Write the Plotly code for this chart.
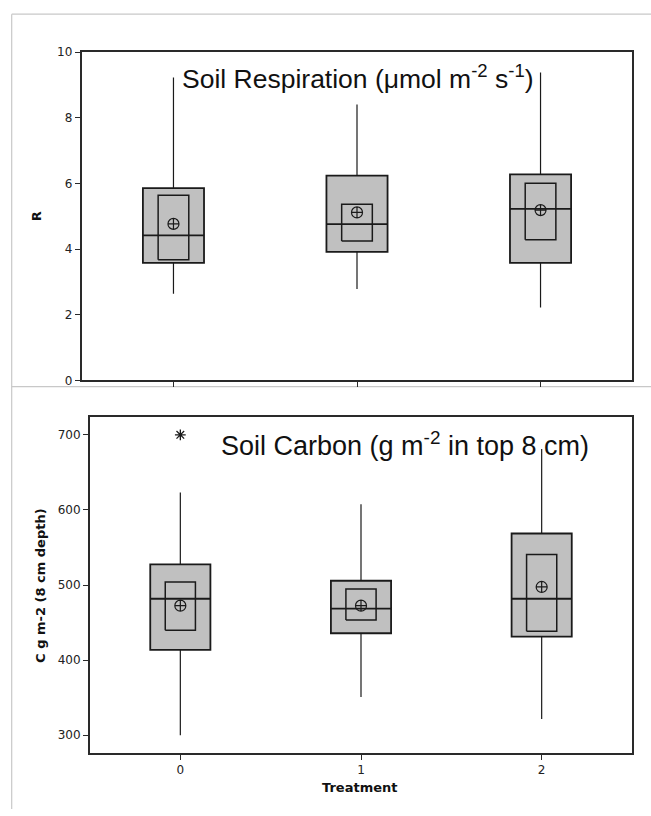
import plotly.graph_objects as go

W, H = 651, 816

treatments = [0, 1, 2]

# Soil respiration (top panel)
R_q1 = [3.58, 3.92, 3.58]
R_med = [4.42, 4.76, 5.23]
R_q3 = [5.86, 6.24, 6.28]
R_wlo = [2.64, 2.79, 2.22]
R_whi = [9.23, 8.41, 9.38]
R_cilo = [3.68, 4.25, 4.29]
R_cihi = [5.64, 5.37, 6.01]
R_mean = [4.77, 5.12, 5.19]

# Soil carbon (bottom panel)
C_q1 = [413.6, 435.8, 431.4]
C_med = [481.7, 468.6, 481.7]
C_q3 = [527.6, 505.7, 568.6]
C_wlo = [300, 351, 321.8]
C_whi = [623.2, 607.5, 681.2]
C_cilo = [439.8, 453.3, 438.5]
C_cihi = [504.0, 494.8, 540.7]
C_mean = [472.5, 472.5, 497.4]
C_out_x = [0]
C_out_y = [700]

R_ticks = [0, 2, 4, 6, 8, 10]
C_ticks = [300, 400, 500, 600, 700]
x_ticks = [0, 1, 2]
x_ticklabels = ["0", "1", "2"]

BOX_FILL = "#c0c0c0"
INK = "#1a1a1a"
OUTER_W = 0.333
INNER_HALF = 0.0835

fig = go.Figure()


def add_panel(xa, ya, q1, med, q3, wlo, whi, cilo, cihi, mean):
    # whiskers
    wx, wy = [], []
    for t, a, b, c, d in zip(treatments, wlo, q1, q3, whi):
        wx += [t, t, None, t, t, None]
        wy += [a, b, None, c, d, None]
    fig.add_trace(go.Scatter(x=wx, y=wy, mode="lines", xaxis=xa, yaxis=ya,
                             line=dict(color=INK, width=1.2), hoverinfo="skip",
                             showlegend=False))
    # outer box (quartiles + median)
    fig.add_trace(go.Box(x=treatments, q1=q1, median=med, q3=q3,
                         lowerfence=q1, upperfence=q3, width=OUTER_W,
                         whiskerwidth=0, fillcolor=BOX_FILL,
                         line=dict(color=INK, width=1.8), boxpoints=False,
                         xaxis=xa, yaxis=ya, showlegend=False))
    # inner box (confidence interval of the median)
    ix, iy = [], []
    for t, lo, hi in zip(treatments, cilo, cihi):
        ix += [t - INNER_HALF, t + INNER_HALF, t + INNER_HALF, t - INNER_HALF,
               t - INNER_HALF, None]
        iy += [lo, lo, hi, hi, lo, None]
    fig.add_trace(go.Scatter(x=ix, y=iy, mode="lines", xaxis=xa, yaxis=ya,
                             line=dict(color=INK, width=1.5), hoverinfo="skip",
                             showlegend=False))
    # mean symbol
    fig.add_trace(go.Scatter(x=treatments, y=mean, mode="markers",
                             xaxis=xa, yaxis=ya, showlegend=False,
                             marker=dict(symbol="circle-cross-open", size=11,
                                         color=INK, line=dict(width=1.2, color=INK))))


add_panel("x", "y", R_q1, R_med, R_q3, R_wlo, R_whi, R_cilo, R_cihi, R_mean)
add_panel("x2", "y2", C_q1, C_med, C_q3, C_wlo, C_whi, C_cilo, C_cihi, C_mean)
fig.add_trace(go.Scatter(x=C_out_x, y=C_out_y, mode="markers", xaxis="x2", yaxis="y2",
                         showlegend=False,
                         marker=dict(symbol="asterisk-open", size=9, color=INK,
                                     line=dict(width=1.3, color=INK))))

tickfont = dict(family="DejaVu Sans", size=12, color="#222")
axis_common = dict(showline=True, mirror=True, linecolor="#2a2a2a", linewidth=2,
                   ticks="outside", ticklen=5, tickwidth=1.2, tickcolor="#2a2a2a",
                   showgrid=False, zeroline=False, tickfont=tickfont)


def px_x(p):
    return p / W


def px_y(p):
    return 1 - p / H


fig.update_layout(
    width=W, height=H, margin=dict(l=0, r=0, t=0, b=0),
    paper_bgcolor="white", plot_bgcolor="white", boxmode="overlay",
    xaxis=dict(domain=[px_x(81.7), px_x(632.3)], range=[-0.5, 2.5], anchor="y",
               tickvals=x_ticks, showticklabels=False, **axis_common),
    yaxis=dict(domain=[px_y(380), px_y(46)], range=[0, 10], anchor="x",
               tickvals=R_ticks, **axis_common),
    xaxis2=dict(domain=[px_x(90), px_x(632)], range=[-0.5, 2.5], anchor="y2",
                tickvals=x_ticks, ticktext=x_ticklabels, **axis_common),
    yaxis2=dict(domain=[px_y(759), px_y(417.3)], range=[276.4, 723.5], anchor="x2",
                tickvals=C_ticks, **axis_common),
)

# light gray frame lines around the two panels
GRAY = "#c8c8c8"
for (x0, y0, x1, y1) in [(11.7, 7.3, 651, 7.3), (11.7, 7.3, 11.7, 816),
                         (11.7, 386.3, 651, 386.3)]:
    fig.add_shape(type="line", xref="paper", yref="paper",
                  x0=px_x(x0), y0=px_y(y0), x1=px_x(x1), y1=px_y(y1),
                  line=dict(color=GRAY, width=1.2), layer="below")

title_font_top = dict(family="Liberation Sans, Arial", size=26.5, color="#111")
title_font = dict(family="Liberation Sans, Arial", size=27, color="#111")
bold_font = dict(family="DejaVu Sans", size=13, color="#111")

fig.add_annotation(x=px_x(357.5), y=px_y(71), xref="paper", yref="paper",
                   text="Soil Respiration (\u03bcmol m<sup>-2</sup> s<sup>-1</sup>)",
                   showarrow=False, font=title_font_top, xanchor="center", yanchor="middle")
fig.add_annotation(x=px_x(405.4), y=px_y(445), xref="paper", yref="paper",
                   text="Soil Carbon (g m<sup>-2</sup> in top 8 cm)",
                   showarrow=False, font=title_font, xanchor="center", yanchor="middle")
fig.add_annotation(x=px_x(36), y=px_y(213), xref="paper", yref="paper",
                   text="<b>R</b>", textangle=-90, showarrow=False, font=bold_font,
                   xanchor="center", yanchor="middle")
fig.add_annotation(x=px_x(41), y=px_y(589), xref="paper", yref="paper",
                   text="<b>C g m-2 (8 cm depth)</b>", textangle=-90, showarrow=False,
                   font=bold_font, xanchor="center", yanchor="middle")
fig.add_annotation(x=px_x(360), y=px_y(794), xref="paper", yref="paper",
                   text="<b>Treatment</b>", showarrow=False, font=bold_font,
                   xanchor="center", yanchor="middle")

fig.write_html("out.html", config={"displayModeBar": False},
               post_script="document.body.style.margin='0px';document.body.style.overflow='hidden';")
